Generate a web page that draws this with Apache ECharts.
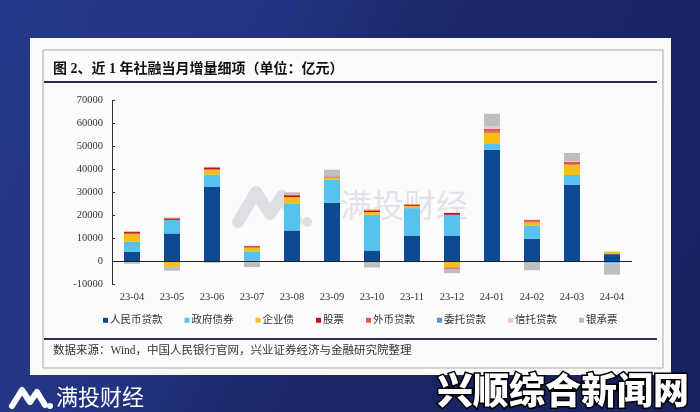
<!DOCTYPE html>
<html>
<head>
<meta charset="utf-8">
<script src="https://cdn.jsdelivr.net/npm/echarts@6/dist/echarts.min.js"></script>
<style>
html,body{margin:0;padding:0;width:700px;height:412px;overflow:hidden;
background:linear-gradient(115deg,#27398a 0%,#213380 33%,#1b2769 52%,#18225f 100%);}
#c{width:700px;height:412px;}
</style>
</head>
<body>
<div id="c"></div>
<script>
// ---- data (亿元) ----
const categories = ['23-04','23-05','23-06','23-07','23-08','23-09','23-10','23-11','23-12','24-01','24-02','24-03','24-04'];
const seriesNames = ['人民币贷款','政府债券','企业债','股票','外币贷款','委托贷款','信托贷款','银承票'];
const rmbLoans    = [4200, 12200, 32400, 400, 13500, 25600, 4800, 11300, 11300, 48500, 9900, 33300, 3200];
const govBonds    = [4400, 5900, 5400, 4000, 11600, 9900, 15500, 11900, 9000, 2600, 5800, 4300, -800];
const corpBonds   = [3500, -2300, 2200, 1700, 2900, 1100, 1200, 1000, -2600, 5000, 1400, 4600, 900];
const stocks      = [700, 600, 800, 500, 800, 300, 600, 500, 800, 400, 300, 500, 100];
const fxLoans     = [200, 300, 200, 200, 300, 0, 400, 200, -600, 1100, 700, 600, 0];
const entrusted   = [0, 0, 100, 0, 0, 100, 0, 0, 0, 100, 0, 0, 0];
const trustLoans  = [100, 0, 100, 0, 100, 0, 0, 100, 200, 1000, 0, 400, 0];
const acceptances = [-1000, -1700, -600, -2400, 900, 2900, -2600, -300, -1900, 5500, -3800, 3500, -4900];
const yTicks = {min: -10000, max: 70000, interval: 10000};

const values = [rmbLoans, govBonds, corpBonds, stocks, fxLoans, entrusted, trustLoans, acceptances];
const colors = ['#0c4a94','#56c2ee','#f6bd16','#c1121c','#e8554e','#5a8ed6','#f5c0cc','#bebebe'];

const serif = '"Liberation Serif","Noto Sans CJK SC",serif';

const series = seriesNames.map((n,i)=>{
  const s = {
    name:n, type:'bar', stack:'total', barWidth:16, data:values[i],
    itemStyle:{color:colors[i]}, emphasis:{disabled:true}
  };
  if(i===0){
    s.markLine = {silent:true, symbol:'none', label:{show:false},
      lineStyle:{color:'#222', width:1, type:'solid'}, data:[{yAxis:0}], animation:false};
  }
  return s;
});

const chart = echarts.init(document.getElementById('c'), null, {renderer:'canvas'});
chart.setOption({
  animation:false,
  backgroundColor:'transparent',
  graphic:[
    {type:'rect', z:-10, shape:{x:30,y:38,width:641,height:337}, style:{fill:'#fbfbfb'}},
    {type:'rect', z:-9, shape:{x:43,y:50,width:620,height:318}, style:{fill:'none', stroke:'#a9a9a9', lineWidth:1}},
    {type:'rect', z:-8, shape:{x:44,y:81,width:613,height:2}, style:{fill:'#2c2d4e'}},
    {type:'rect', z:-8, shape:{x:44,y:338,width:613,height:2}, style:{fill:'#2c2e5c'}},
    {type:'text', x:53, y:69, style:{text:'图 2、近 1 年社融当月增量细项（单位：亿元）', fill:'#111',
      font:'bold 14px '+serif, verticalAlign:'middle'}},
    {type:'text', x:53, y:351, style:{text:'数据来源：Wind，中国人民银行官网，兴业证券经济与金融研究院整理', fill:'#333',
      font:'11.5px '+serif, verticalAlign:'middle'}},
    // center watermark
    {type:'polyline', z:-5, shape:{points:[[238,222],[256,192],[270,214],[282,196],[296,220]]},
      style:{stroke:'rgba(185,188,200,0.45)', lineWidth:12, lineCap:'round', lineJoin:'round', fill:'none'}},
    {type:'circle', z:-5, shape:{cx:307,cy:222,r:5}, style:{fill:'rgba(185,188,200,0.45)'}},
    {type:'text', z:-5, x:340, y:205, style:{text:'满投财经', fill:'rgba(190,193,205,0.4)',
      font:'32px "Noto Sans CJK SC"', verticalAlign:'middle'}},
    // footer logo
    {type:'polyline', shape:{points:[[12,406],[22,390],[30,402],[37,392],[45,405]]},
      style:{stroke:'#fff', lineWidth:6, lineCap:'round', lineJoin:'round', fill:'none'}},
    {type:'circle', shape:{cx:50,cy:406,r:3}, style:{fill:'#fff'}},
    {type:'text', x:56, y:397, style:{text:'满投财经', fill:'#fff', font:'22px "Noto Sans CJK SC"', verticalAlign:'middle'}},
    {type:'text', x:437, y:390, style:{text:'兴顺综合新闻网', fill:'#fff', stroke:'#000', lineWidth:3,
      font:'900 36px "Noto Sans CJK SC"', verticalAlign:'middle'}}
  ],
  legend:{
    data:seriesNames, left:98, top:310, itemWidth:5, itemHeight:5, itemGap:22,
    icon:'rect', selectedMode:false,
    textStyle:{fontFamily:serif, fontSize:10.5, color:'#333', padding:[0,0,0,-3]}
  },
  grid:{left:112, right:68, top:100.5, bottom:127.5, containLabel:false},
  xAxis:{
    type:'category', data:categories,
    axisLine:{show:false}, axisTick:{show:false},
    axisLabel:{fontFamily:serif, fontSize:10.5, color:'#333', margin:8}
  },
  yAxis:{
    type:'value', min:yTicks.min, max:yTicks.max, interval:yTicks.interval,
    splitLine:{show:false},
    axisLine:{show:true, lineStyle:{color:'#333', width:1}},
    axisTick:{show:true, inside:true, length:3, lineStyle:{color:'#333'}},
    axisLabel:{fontFamily:serif, fontSize:10.5, color:'#333', margin:9, formatter:v=>String(v)}
  },
  series:series
});
</script>
</body>
</html>
